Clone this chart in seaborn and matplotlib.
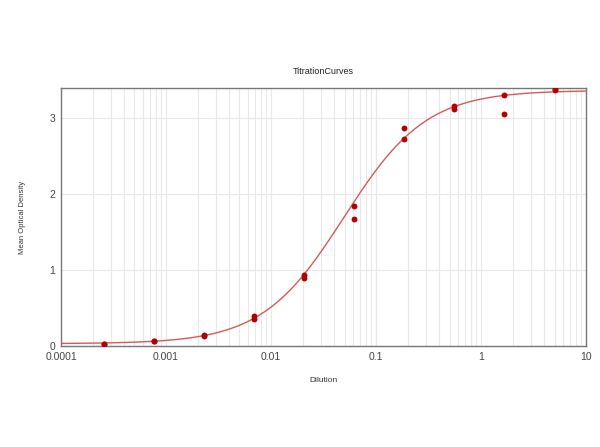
import numpy as np
import pandas as pd
import seaborn as sns
import matplotlib.pyplot as plt
from matplotlib.ticker import FixedLocator, LogLocator, NullFormatter

# ==================================
# DATA
# ==================================

dilution = [0.000254, 0.000254, 0.000762, 0.000762, 0.00229, 0.00229,
            0.00686, 0.00686, 0.0206, 0.0206, 0.0617, 0.0617,
            0.185, 0.185, 0.556, 0.556, 1.667, 1.667, 5.0, 5.0]
optical_density = [0.03, 0.03, 0.06, 0.06, 0.13, 0.15,
                   0.36, 0.39, 0.90, 0.93, 1.67, 1.84,
                   2.72, 2.86, 3.11, 3.16, 3.05, 3.30, 3.37, 3.38]

# 4PL fit parameters (bottom, top, ec50, hill)
fit_bottom = 0.03
fit_top = 3.36
fit_ec50 = 0.0496
fit_hill = 1.11

x_ticks = [0.0001, 0.001, 0.01, 0.1, 1, 10]
x_tick_labels = ["0.0001", "0.001", "0.01", "0.1", "1", "10"]
y_ticks = [0, 1, 2, 3]

df = pd.DataFrame({"Dilution": dilution, "OD": optical_density})

xs = np.logspace(-4, 1, 400)
curve = pd.DataFrame({
    "Dilution": xs,
    "OD": fit_bottom + (fit_top - fit_bottom) / (1 + (fit_ec50 / xs) ** fit_hill),
})

# ==================================
# PLOT
# ==================================

sns.set_style("white")
plt.rcParams["font.family"] = ["Liberation Sans", "DejaVu Sans"]

fig = plt.figure(figsize=(6, 4.47), dpi=100)
ax = fig.add_axes([0.1017, 0.226, 0.8753, 0.577])

sns.lineplot(data=curve, x="Dilution", y="OD", ax=ax, color="#d45a5a", linewidth=1.0)
sns.scatterplot(data=df, x="Dilution", y="OD", ax=ax, color="#b00000",
                s=18, edgecolor="#b00000", linewidth=0, zorder=3)

ax.set_xscale("log")
ax.set_xlim(0.0001, 10)
ax.set_ylim(0, 3.39)

ax.xaxis.set_major_locator(FixedLocator(x_ticks))
ax.set_xticklabels(x_tick_labels)
ax.xaxis.set_minor_locator(LogLocator(base=10, subs=np.arange(2, 10)))
ax.xaxis.set_minor_formatter(NullFormatter())
ax.set_yticks(y_ticks)

ax.grid(True, which="major", axis="both", color="#e8e8e8", linewidth=0.8)
ax.grid(True, which="minor", axis="x", color="#e8e8e8", linewidth=0.8)
ax.tick_params(axis="both", which="both", length=0, labelsize=7.5,
               labelcolor="#444444", pad=4)

for side in ["left", "bottom", "top", "right"]:
    ax.spines[side].set_color("#777777")
    ax.spines[side].set_linewidth(1.0)

ax.set_title("TitrationCurves", fontsize=6.5, color="#222222", pad=10)
ax.set_xlabel("Dilution", fontsize=6, color="#333333", labelpad=11)
ax.set_ylabel("Mean Optical Density", fontsize=5.5, color="#333333", labelpad=17)

fig.savefig("out.png", dpi=100)
